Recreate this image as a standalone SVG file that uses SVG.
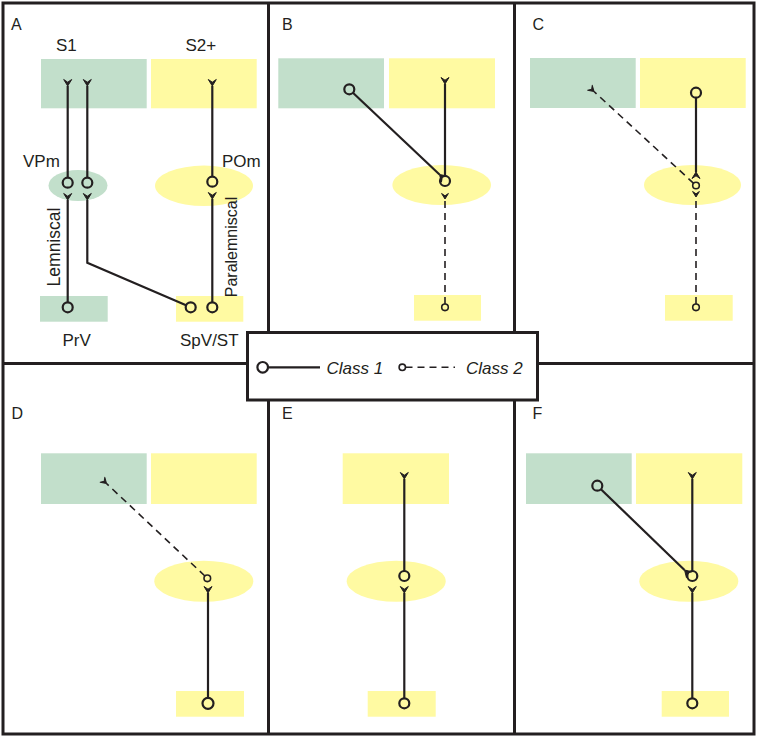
<svg xmlns="http://www.w3.org/2000/svg" xmlns:xlink="http://www.w3.org/1999/xlink" width="757" height="737" viewBox="0 0 757 737">
<style>
.frame{fill:none;stroke:#231f20;stroke-width:3}
.g{fill:#c2dfcb}
.y{fill:#fffaa2}
.t{font-family:"Liberation Sans",Arial,sans-serif;font-size:17px;fill:#231f20}
.pl{font-family:"Liberation Sans",Arial,sans-serif;font-size:16px;fill:#231f20}
.it{font-family:"Liberation Sans",Arial,sans-serif;font-size:17px;font-style:italic;fill:#231f20}
.c1{fill:none;stroke:#231f20;stroke-width:2.2}
.c2{fill:none;stroke:#231f20;stroke-width:1.6;stroke-dasharray:7 5}
.b{fill:none;stroke:#231f20;stroke-width:2.2}
.s{fill:none;stroke:#231f20;stroke-width:1.6}
.ch{fill:#231f20;stroke:#231f20;stroke-width:1;stroke-linejoin:round}
</style>
<defs>
<path id="ch" d="M6.5,-4 L0,0 L6.5,4 L3.8,0 Z"/>
<path id="chs" d="M5.5,-3.4 L0,0 L5.5,3.4 L3.2,0 Z"/>
</defs>
<rect x="0" y="0" width="757" height="737" fill="#fff"/>

<g id="frames">
<rect class="frame" x="3" y="3" width="751" height="731"/>
<line class="frame" x1="268.5" y1="3" x2="268.5" y2="734"/>
<line class="frame" x1="514.5" y1="3" x2="514.5" y2="734"/>
<line class="frame" x1="3" y1="363.5" x2="754" y2="363.5"/>
</g>

<!-- Panel A -->
<g id="panelA">
<text class="pl" x="11" y="30">A</text>
<g id="A-S1"><rect class="g" x="41" y="59" width="105.7" height="49.3"/><text class="t" x="56" y="50.5">S1</text></g>
<g id="A-S2"><rect class="y" x="151" y="59" width="105.7" height="49.3"/><text class="t" x="185.5" y="50.5">S2+</text></g>
<g id="A-VPm"><ellipse class="g" cx="78" cy="185.5" rx="29.5" ry="15.5"/><text class="t" x="23" y="166.5">VPm</text></g>
<g id="A-POm"><ellipse class="y" cx="204" cy="185.8" rx="49" ry="20.2"/><text class="t" x="222" y="166.5">POm</text></g>
<g id="A-PrV"><rect class="g" x="40" y="296" width="67.7" height="25.7"/><text class="t" x="62.5" y="345.5">PrV</text></g>
<g id="A-SpV"><rect class="y" x="176" y="296" width="67.3" height="25.7"/><text class="t" x="180" y="345.5">SpV/ST</text></g>
<text class="t" style="font-size:17.5px" x="59.5" y="247" text-anchor="middle" transform="rotate(-90 59.5 247)">Lemniscal</text>
<text class="pl" x="236.5" y="247" text-anchor="middle" transform="rotate(-90 236.5 247)">Paralemniscal</text>
</g>

<!-- Panel B -->
<g id="panelB">
<text class="pl" x="282" y="30">B</text>
<g id="B-S1"><rect class="g" x="278.3" y="58.3" width="105.7" height="50"/></g>
<g id="B-S2"><rect class="y" x="389" y="58.3" width="106" height="50"/></g>
<g id="B-POm"><ellipse class="y" cx="441.7" cy="185" rx="49.3" ry="20"/></g>
<g id="B-SpV"><rect class="y" x="414" y="295" width="67" height="25.7"/></g>
</g>

<!-- Panel C -->
<g id="panelC">
<text class="pl" x="532.5" y="30">C</text>
<g id="C-S1"><rect class="g" x="530" y="58" width="105.7" height="50"/></g>
<g id="C-S2"><rect class="y" x="640" y="58" width="105.7" height="50"/></g>
<g id="C-POm"><ellipse class="y" cx="692.5" cy="185" rx="48.5" ry="20"/></g>
<g id="C-SpV"><rect class="y" x="665" y="295" width="67.7" height="25.7"/></g>
</g>

<!-- Panel D -->
<g id="panelD">
<text class="pl" x="11.5" y="418.5">D</text>
<g id="D-S1"><rect class="g" x="41" y="453.3" width="105.7" height="50.7"/></g>
<g id="D-S2"><rect class="y" x="151" y="453.3" width="105.7" height="50.7"/></g>
<g id="D-POm"><ellipse class="y" cx="203.8" cy="581.2" rx="49.5" ry="20.5"/></g>
<g id="D-SpV"><rect class="y" x="176" y="691" width="68" height="25.7"/></g>
</g>

<!-- Panel E -->
<g id="panelE">
<text class="pl" x="282" y="418.5">E</text>
<g id="E-S2"><rect class="y" x="342.7" y="453.3" width="106.3" height="50.7"/></g>
<g id="E-POm"><ellipse class="y" cx="396.2" cy="581.2" rx="49.5" ry="20.5"/></g>
<g id="E-SpV"><rect class="y" x="367.7" y="691" width="68" height="25.7"/></g>
</g>

<!-- Panel F -->
<g id="panelF">
<text class="pl" x="532.5" y="418.5">F</text>
<g id="F-S1"><rect class="g" x="526" y="453.3" width="105.7" height="50.7"/></g>
<g id="F-S2"><rect class="y" x="636" y="453.3" width="106.3" height="50.7"/></g>
<g id="F-POm"><ellipse class="y" cx="688.8" cy="581.2" rx="49.5" ry="20.5"/></g>
<g id="F-SpV"><rect class="y" x="661.7" y="691" width="67.3" height="25.7"/></g>
</g>

<!-- Connectors -->
<g id="connectors">
<!-- A -->
<line class="c1" x1="67.7" y1="302.3" x2="67.7" y2="200"/>
<use href="#ch" class="ch" transform="translate(67.7 200) rotate(-90)"/>
<line class="c1" x1="67.7" y1="177.7" x2="67.7" y2="86"/>
<use href="#ch" class="ch" transform="translate(67.7 86) rotate(-90)"/>
<line class="c1" x1="87.3" y1="177.7" x2="87.3" y2="86"/>
<use href="#ch" class="ch" transform="translate(87.3 86) rotate(-90)"/>
<polyline class="c1" points="186.1,305.3 87.3,262.7 87.3,200"/>
<use href="#ch" class="ch" transform="translate(87.3 200) rotate(-90)"/>
<line class="c1" x1="212.3" y1="176.7" x2="212.3" y2="86"/>
<use href="#ch" class="ch" transform="translate(212.3 86) rotate(-90)"/>
<line class="c1" x1="212.3" y1="302.3" x2="212.3" y2="199"/>
<use href="#ch" class="ch" transform="translate(212.3 199) rotate(-90)"/>
<circle class="b" cx="67.7" cy="182.7" r="5"/>
<circle class="b" cx="87.3" cy="182.7" r="5"/>
<circle class="b" cx="212.3" cy="181.7" r="5"/>
<circle class="b" cx="67.7" cy="307.3" r="5"/>
<circle class="b" cx="190.7" cy="307.3" r="5"/>
<circle class="b" cx="212.3" cy="307.3" r="5"/>
<!-- B -->
<line class="c1" x1="352.9" y1="92.7" x2="439.5" y2="174.5"/>
<use href="#ch" class="ch" transform="translate(439.5 174.5) rotate(43.4)"/>
<line class="c1" x1="445" y1="176" x2="445" y2="84"/>
<use href="#ch" class="ch" transform="translate(445 84) rotate(-90)"/>
<line class="c2" x1="445" y1="304" x2="445" y2="199"/>
<use href="#chs" class="ch" transform="translate(445 199) rotate(-90)"/>
<circle class="b" cx="349.3" cy="89.3" r="5"/>
<circle class="b" cx="445" cy="181" r="5"/>
<circle class="s" cx="445" cy="307.3" r="3.3"/>
<!-- C -->
<line class="c1" x1="696" y1="97.7" x2="696" y2="172"/>
<use href="#ch" class="ch" transform="translate(696 172) rotate(90)"/>
<line class="c2" x1="693.6" y1="183.3" x2="594" y2="91.5"/>
<use href="#chs" class="ch" transform="translate(594 91.5) rotate(-137.2)"/>
<line class="c2" x1="696" y1="304" x2="696" y2="197"/>
<use href="#chs" class="ch" transform="translate(696 197) rotate(-90)"/>
<circle class="b" cx="696" cy="92.7" r="5"/>
<circle class="s" cx="696" cy="185.5" r="3.3"/>
<circle class="s" cx="696" cy="307.3" r="3.3"/>
<!-- D -->
<line class="c2" x1="204.9" y1="576" x2="106.5" y2="483.5"/>
<use href="#chs" class="ch" transform="translate(106.5 483.5) rotate(-136.8)"/>
<line class="c1" x1="208" y1="697.8" x2="208" y2="593"/>
<use href="#ch" class="ch" transform="translate(208 593) rotate(-90)"/>
<circle class="s" cx="207.3" cy="578.3" r="3.3"/>
<circle class="b" cx="208" cy="703.3" r="5.5"/>
<!-- E -->
<line class="c1" x1="404.3" y1="571" x2="404.3" y2="479"/>
<use href="#ch" class="ch" transform="translate(404.3 479) rotate(-90)"/>
<line class="c1" x1="404.3" y1="698.3" x2="404.3" y2="593"/>
<use href="#ch" class="ch" transform="translate(404.3 593) rotate(-90)"/>
<circle class="b" cx="404.3" cy="576" r="5"/>
<circle class="b" cx="404.3" cy="703.3" r="5"/>
<!-- F -->
<line class="c1" x1="600.9" y1="489.2" x2="684.5" y2="570"/>
<use href="#ch" class="ch" transform="translate(684.5 570) rotate(44)"/>
<line class="c1" x1="692.3" y1="571" x2="692.3" y2="479"/>
<use href="#ch" class="ch" transform="translate(692.3 479) rotate(-90)"/>
<line class="c1" x1="692.3" y1="698.3" x2="692.3" y2="593"/>
<use href="#ch" class="ch" transform="translate(692.3 593) rotate(-90)"/>
<circle class="b" cx="597.3" cy="485.7" r="5"/>
<circle class="b" cx="692.3" cy="576" r="5"/>
<circle class="b" cx="692.3" cy="703.3" r="5"/>
</g>

<!-- Legend -->
<g id="legend">
<rect x="247.5" y="332.5" width="290" height="67.5" fill="#fff" stroke="#231f20" stroke-width="3"/>
<circle class="b" cx="262.7" cy="367.3" r="5.3"/>
<line class="c1" x1="268" y1="367.3" x2="320" y2="367.3"/>
<text class="it" x="326.5" y="373.5">Class 1</text>
<circle class="s" cx="402.3" cy="367.3" r="3.2"/>
<line class="c2" x1="405.5" y1="367.3" x2="455" y2="367.3"/>
<text class="it" x="466" y="373.5">Class 2</text>
</g>
</svg>
